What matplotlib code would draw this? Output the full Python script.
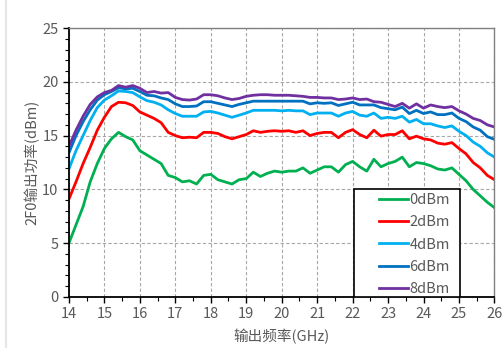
import matplotlib.pyplot as plt
import numpy as np
from matplotlib.lines import Line2D
from matplotlib.patches import Rectangle
from matplotlib.ticker import MultipleLocator

plt.rcParams['font.family'] = ['Noto Sans CJK SC', 'DejaVu Sans']

freq = np.round(np.arange(14.0, 26.01, 0.2), 1)

p0 = [5.0, 6.7, 8.4, 10.7, 12.4, 13.8, 14.7, 15.3, 14.9, 14.6,
      13.6, 13.2, 12.8, 12.4, 11.3, 11.1, 10.7, 10.8, 10.5, 11.3,
      11.4, 10.9, 10.7, 10.5, 10.9, 11.0, 11.6, 11.2, 11.5, 11.7,
      11.6, 11.7, 11.7, 12.0, 11.5, 11.8, 12.1, 12.1, 11.6, 12.3,
      12.6, 12.1, 11.7, 12.8, 12.1, 12.4, 12.6, 13.0, 12.1, 12.5,
      12.4, 12.2, 11.9, 11.8, 12.0, 11.4, 10.8, 10.0, 9.4, 8.8, 8.3]
p2 = [9.1, 10.7, 12.4, 13.9, 15.5, 16.7, 17.7, 18.1, 18.05, 17.8,
      17.2, 16.9, 16.6, 16.2, 15.3, 15.0, 14.8, 14.85, 14.8, 15.3,
      15.3, 15.2, 14.9, 14.7, 14.9, 15.1, 15.45, 15.3, 15.4, 15.45,
      15.4, 15.45, 15.3, 15.45, 15.0, 15.2, 15.3, 15.3, 14.8, 15.3,
      15.55, 15.1, 14.8, 15.5, 14.95, 15.1, 15.1, 15.45, 14.7, 14.95,
      14.7, 14.6, 14.3, 14.2, 14.35, 13.8, 13.3, 12.5, 12.0, 11.3, 10.9]
p4 = [11.9, 13.6, 15.0, 16.4, 17.6, 18.3, 18.7, 19.15, 19.1, 19.0,
      18.6, 18.25, 18.1, 17.85, 17.4, 17.05, 16.8, 16.8, 16.8, 17.2,
      17.25, 17.1, 16.9, 16.7, 16.9, 17.1, 17.35, 17.35, 17.35, 17.35,
      17.3, 17.35, 17.3, 17.3, 16.95, 17.1, 17.1, 17.1, 16.8, 17.1,
      17.25, 16.9, 16.8, 17.1, 16.6, 16.7, 16.6, 16.8, 16.25, 16.5,
      16.1, 16.1, 15.9, 15.75, 15.9, 15.4, 15.0, 14.4, 14.0, 13.4, 13.0]
p6 = [13.4, 15.0, 16.3, 17.4, 18.3, 18.8, 19.1, 19.45, 19.35, 19.4,
      19.1, 18.75, 18.7, 18.5, 18.35, 17.95, 17.7, 17.7, 17.75, 18.15,
      18.15, 18.0, 17.85, 17.7, 17.9, 18.05, 18.2, 18.2, 18.2, 18.2,
      18.2, 18.2, 18.2, 18.2, 17.95, 18.05, 18.0, 18.05, 17.8, 17.95,
      18.1, 17.85, 17.85, 17.85, 17.6, 17.5, 17.4, 17.65, 17.05, 17.35,
      17.05, 17.2, 16.95, 16.95, 17.1, 16.6, 16.3, 15.8, 15.5, 14.9, 14.65]
p8 = [14.0, 15.5, 16.8, 17.9, 18.6, 19.0, 19.2, 19.65, 19.5, 19.65,
      19.4, 19.0, 19.1, 18.95, 19.0, 18.55, 18.35, 18.3, 18.4, 18.8,
      18.8, 18.7, 18.5, 18.35, 18.45, 18.65, 18.75, 18.8, 18.8, 18.75,
      18.75, 18.75, 18.7, 18.65, 18.55, 18.55, 18.5, 18.5, 18.35, 18.4,
      18.5, 18.35, 18.4, 18.15, 18.1, 17.9, 17.7, 18.0, 17.55, 17.95,
      17.55, 17.85, 17.7, 17.6, 17.7, 17.3, 17.0, 16.6, 16.4, 16.0, 15.8]

labels = ['0dBm', '2dBm', '4dBm', '6dBm', '8dBm']
colors = ['#00B050', '#FF0000', '#00B0F0', '#0070C0', '#7030A0']
txt = '#595959'

fig = plt.figure(figsize=(5.03, 3.48), dpi=100)
ax = fig.add_axes([0.137, 0.1466, 0.846, 0.7729])

for y, lab, c in zip([p0, p2, p4, p6, p8], labels, colors):
    ax.plot(freq, y, color=c, lw=2.0, label=lab)

ax.set_xlim(14, 26)
ax.set_ylim(0, 25)
ax.xaxis.set_major_locator(MultipleLocator(1))
ax.xaxis.set_minor_locator(MultipleLocator(0.5))
ax.yaxis.set_major_locator(MultipleLocator(5))
ax.yaxis.set_minor_locator(MultipleLocator(1))
ax.grid(True, which='major', color='#a6a6a6', ls=(0, (3, 2)), lw=0.8)
ax.tick_params(which='both', direction='out', colors='black', labelcolor=txt,
               labelsize=10.5)
ax.tick_params(which='major', length=4, width=1)
ax.tick_params(which='minor', length=3, width=0.8)
for s in ['left', 'bottom']:
    ax.spines[s].set_color('black')
    ax.spines[s].set_linewidth(1.3)
for s in ['top', 'right']:
    ax.spines[s].set_color('#808080')
    ax.spines[s].set_linewidth(1.0)

ax.set_xlabel('输出频率(GHz)', color=txt, fontsize=10.5, labelpad=5)
ax.set_ylabel('2F0输出功率(dBm)', color=txt, fontsize=10.5, labelpad=2)

# white box behind the legend, sitting on the x axis
box = Rectangle((0.67, 0.0), 0.249, 0.4, transform=ax.transAxes,
                facecolor='white', edgecolor='black', lw=1.2, zorder=3)
ax.add_patch(box)
leg = ax.legend(loc='upper left', bbox_to_anchor=(0.7286, 0.388),
                borderaxespad=0, borderpad=0, frameon=False,
                fontsize=10.5, handlelength=2.0, handletextpad=0.1,
                labelspacing=0.58, labelcolor=txt)
leg.set_zorder(4)

fig.add_artist(Line2D([6 / 503, 6 / 503], [0, 1], color='#e6e6e6', lw=1.5))

fig.savefig('out.png', dpi=100)
